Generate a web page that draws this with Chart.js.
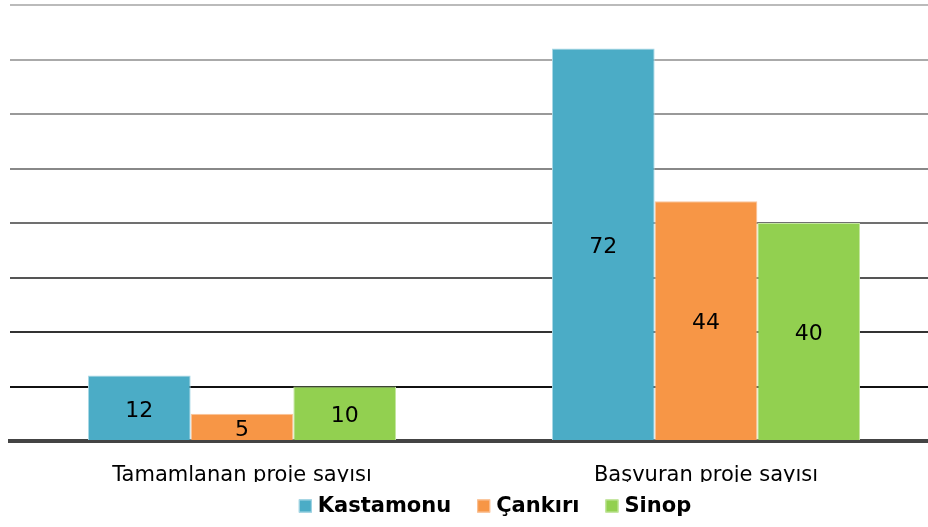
<!DOCTYPE html>
<html lang="tr">
<head>
  <meta charset="UTF-8">
  <title>Proje sayıları</title>
  <style>
    body {
      margin: 0;
      background: #ffffff;
      overflow: hidden;
    }

    .chart-box {
      width: 938px;
      height: 527px;
      position: relative;
    }
  </style>
  <script src="https://cdn.jsdelivr.net/npm/chart.js"></script>
</head>
<body>
  <div class="chart-box">
    <canvas id="projectsChart"></canvas>
  </div>

  <script>
    // chart data
    const categories = ['Tamamlanan proje sayısı', 'Başvuran proje sayısı'];
    const seriesNames = ['Kastamonu', 'Çankırı', 'Sinop'];
    const kastamonu = [12, 72];
    const cankiri = [5, 44];
    const sinop = [10, 40];
    const yTicks = [0, 10, 20, 30, 40, 50, 60, 70, 80];

    const fills = ['#4BACC6', '#F79646', '#92D050'];
    const edges = ['#a9d8e6', '#fac49c', '#c4e69f'];

    // grid gets darker toward the bottom
    const gridShades = ['#444444', '#111111', '#333333', '#555555', '#707070', '#888888', '#999999', '#aaaaaa', '#bbbbbb'];

    // value labels in the middle of each bar
    const barLabels = {
      id: 'barLabels',
      afterDatasetsDraw(chart) {
        const ctx = chart.ctx;
        ctx.save();
        ctx.font = '22px "DejaVu Sans", sans-serif';
        ctx.fillStyle = '#000000';
        ctx.textAlign = 'center';
        ctx.textBaseline = 'middle';
        chart.data.datasets.forEach((ds, i) => {
          chart.getDatasetMeta(i).data.forEach((bar, j) => {
            ctx.fillText(ds.data[j], bar.x, (bar.y + bar.base) / 2 + 3);
          });
        });
        ctx.restore();
      }
    };

    // legend drawn by hand so it can sit over the cut-off axis labels
    const bottomLegend = {
      id: 'bottomLegend',
      afterDraw(chart) {
        const ctx = chart.ctx;
        const top = 482;
        ctx.save();
        ctx.fillStyle = '#ffffff';
        ctx.fillRect(0, top, chart.width, chart.height - top);

        ctx.font = 'bold 21px "DejaVu Sans", sans-serif';
        ctx.textBaseline = 'middle';
        const box = 13, gap = 6, spacing = 26;
        const widths = chart.data.datasets.map(ds => ctx.measureText(ds.label).width);
        let total = 0;
        widths.forEach((w, i) => { total += box + gap + w + (i ? spacing : 0); });
        let x = 495 - total / 2;
        const cy = 506;
        chart.data.datasets.forEach((ds, i) => {
          ctx.fillStyle = ds.backgroundColor;
          ctx.fillRect(x, cy - box / 2, box, box);
          ctx.strokeStyle = ds.borderColor;
          ctx.lineWidth = 1;
          ctx.strokeRect(x + 0.5, cy - box / 2 + 0.5, box - 1, box - 1);
          x += box + gap;
          ctx.fillStyle = '#000000';
          ctx.fillText(ds.label, x, cy + 1);
          x += widths[i] + spacing;
        });
        ctx.restore();
      }
    };

    const series = [kastamonu, cankiri, sinop];

    new Chart(document.getElementById('projectsChart'), {
      type: 'bar',
      data: {
        labels: categories,
        datasets: series.map((values, i) => ({
          label: seriesNames[i],
          data: values,
          backgroundColor: fills[i],
          borderColor: edges[i],
          borderWidth: 1,
          barPercentage: 1,
          categoryPercentage: 0.664
        }))
      },
      options: {
        responsive: true,
        maintainAspectRatio: false,
        animation: false,
        layout: {
          padding: { top: 5, left: 10, right: 0, bottom: 0 }
        },
        plugins: {
          legend: { display: false },
          tooltip: { enabled: false }
        },
        scales: {
          x: {
            grid: { display: false, drawTicks: false },
            border: { display: true, color: '#444444', width: 4 },
            ticks: {
              color: '#000000',
              padding: 22,
              font: { family: '"DejaVu Sans", sans-serif', size: 21 }
            },
            afterFit(scale) { scale.height = 86; }
          },
          y: {
            min: yTicks[0],
            max: yTicks[yTicks.length - 1],
            afterBuildTicks(scale) {
              scale.ticks = yTicks.map(v => ({ value: v }));
            },
            ticks: { display: false },
            grid: {
              drawTicks: false,
              lineWidth: 2,
              color: c => gridShades[yTicks.indexOf(c.tick.value)] || '#888888'
            },
            border: { display: false },
            afterFit(scale) { scale.width = 0; }
          }
        }
      },
      plugins: [barLabels, bottomLegend]
    });
  </script>
</body>
</html>
